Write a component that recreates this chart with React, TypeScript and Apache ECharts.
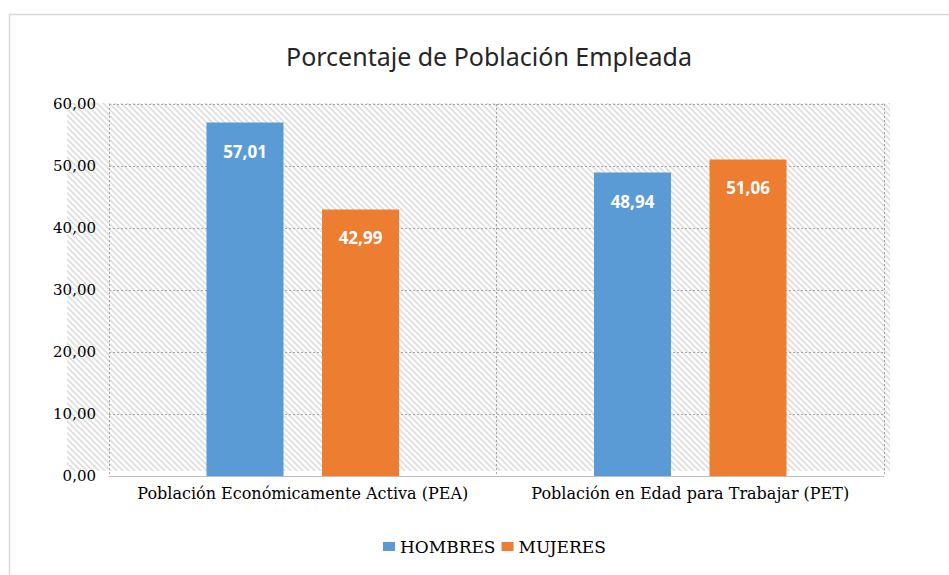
import React, { useEffect, useRef } from "react";
import * as echarts from "echarts";

const title = "Porcentaje de Población Empleada";
const categories = [
  "Población Económicamente Activa (PEA)",
  "Población en Edad para Trabajar (PET)",
];
const seriesNames = ["HOMBRES", "MUJERES"];
const hombres = [57.01, 48.94];
const mujeres = [42.99, 51.06];
const colors = ["#5B9BD5", "#ED7D31"];

const fmt = (v: number) => v.toFixed(2).replace(".", ",");

const hatchSvg =
  "data:image/svg+xml;charset=utf-8," +
  encodeURIComponent(
    '<svg xmlns="http://www.w3.org/2000/svg" width="6" height="6"><rect width="6" height="6" fill="#ffffff"/><path d="M-1,-1 L7,7 M-1,5 L1,7 M5,-1 L7,1" stroke="#dedede" stroke-width="1.6"/></svg>'
  );

export default function App() {
  const ref = useRef<HTMLDivElement>(null);
  useEffect(() => {
    if (!ref.current) return;
    const chart = echarts.init(ref.current, null, { renderer: "svg" });
    const serif = "'DejaVu Serif', 'Liberation Serif', serif";
    const labelStyle = {
      show: true,
      position: "insideTop",
      distance: 20,
      formatter: (p: any) => fmt(p.value),
      color: "#ffffff",
      fontWeight: "bold",
      fontSize: 17,
      fontFamily: "'Noto Sans', sans-serif",
    };
    chart.setOption({
      animation: false,
      backgroundColor: "#ffffff",
      title: {
        text: title,
        left: 281,
        top: 38,
        textStyle: {
          fontFamily: "'Noto Sans', sans-serif",
          fontSize: 25,
          fontWeight: "normal",
          color: "#262626",
        },
      },
      graphic: [
        {
          type: "rect",
          z: -10,
          silent: true,
          shape: { x: 9.5, y: 14.5, width: 1000, height: 600 },
          style: { fill: "none", stroke: "#d9d9d9", lineWidth: 1.5 },
        },
        {
          type: "rect",
          z: -9,
          silent: true,
          shape: { x: 67, y: 103, width: 823, height: 368 },
          style: {
            fill: { image: hatchSvg, repeat: "repeat", imageWidth: 6, imageHeight: 6 },
          },
        },
      ],
      legend: {
        data: seriesNames,
        left: 378,
        top: 533,
        itemWidth: 12,
        itemHeight: 9,
        itemGap: 6,
        icon: "rect",
        textStyle: { fontFamily: serif, fontSize: 17, color: "#000" },
      },
      grid: { left: 109, right: 65, top: 104, bottom: 99 },
      xAxis: {
        type: "category",
        data: categories,
        axisLine: { show: true, lineStyle: { color: "#bfbfbf" } },
        axisTick: { show: false },
        splitLine: {
          show: true,
          interval: 0,
          lineStyle: { color: "#a6a6a6", type: [2, 2], width: 1 },
        },
        axisLabel: {
          interval: 0,
          fontFamily: serif,
          fontSize: 16,
          color: "#000",
          margin: 9,
        },
      },
      yAxis: {
        type: "value",
        min: 0,
        max: 60,
        interval: 10,
        axisLine: { show: false },
        axisTick: { show: false },
        splitLine: {
          show: true,
          lineStyle: { color: "#a6a6a6", type: [2, 2], width: 1 },
        },
        axisLabel: {
          formatter: (v: number) => fmt(v),
          fontFamily: serif,
          fontSize: 15,
          color: "#000",
          margin: 13,
        },
      },
      series: [
        {
          name: seriesNames[0],
          type: "bar",
          data: hombres,
          barWidth: 77,
          barGap: "50%",
          itemStyle: { color: colors[0] },
          label: labelStyle,
        },
        {
          name: seriesNames[1],
          type: "bar",
          data: mujeres,
          barWidth: 77,
          itemStyle: { color: colors[1] },
          label: labelStyle,
        },
      ],
    });
    return () => chart.dispose();
  }, []);
  return <div ref={ref} style={{ width: 949, height: 575, position: "absolute", left: 0, top: 0 }} />;
}
